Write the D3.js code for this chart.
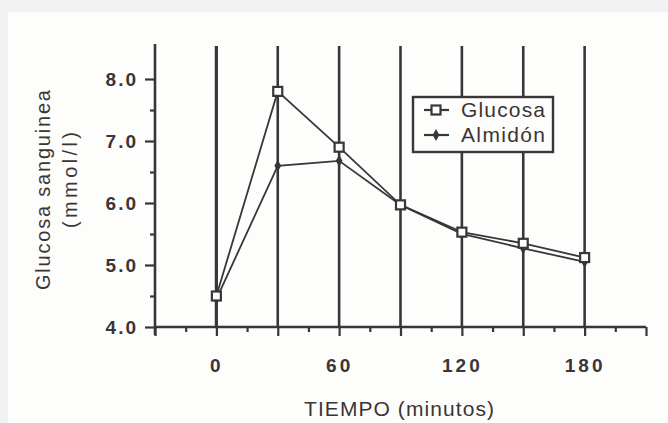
<!DOCTYPE html>
<html>
<head>
<meta charset="utf-8">
<script src="https://cdn.jsdelivr.net/npm/d3@7"></script>
<style>
  body { margin: 0; background: #f1f2f3; }
  svg { display: block; }
  text { font-family: "Liberation Sans", Arial, sans-serif; fill: #3a3536; }
</style>
</head>
<body>
<div id="chart"></div>
<script>
// data
const tiempo = [0, 30, 60, 90, 120, 150, 180];
const glucosa = [4.5, 7.8, 6.9, 5.97, 5.53, 5.35, 5.12];
const almidon = [4.45, 6.6, 6.68, 5.97, 5.5, 5.27, 5.05];
const yMajor = [4, 5, 6, 7, 8];
const yMinor = [4.5, 5.5, 6.5, 7.5];
const xMajor = [-30, 0, 30, 60, 90, 120, 150, 180, 210];
const xLabels = [0, 60, 120, 180];
const gridX = [0, 30, 60, 90, 120, 150, 180];
const series = [
  { name: "Glucosa", values: glucosa, marker: "square" },
  { name: "Almidón", values: almidon, marker: "diamond" }
];

const W = 668, H = 423;
const ink = "#3a3536";

const svg = d3.select("#chart").append("svg")
  .attr("width", W).attr("height", H);

// scanned page area
svg.append("rect")
  .attr("x", 8).attr("y", 12)
  .attr("width", W - 8).attr("height", H - 12)
  .attr("fill", "#fdfdfc");

const x = d3.scaleLinear().domain([-30, 210]).range([155, 646]);
const y = d3.scaleLinear().domain([4, 8]).range([327, 79]);
const yTop = 44;

// vertical grid lines
svg.append("g").selectAll("line")
  .data(gridX)
  .join("line")
    .attr("x1", d => x(d)).attr("x2", d => x(d))
    .attr("y1", 46).attr("y2", y(4))
    .attr("stroke", ink)
    .attr("stroke-width", d => d === 0 ? 3.2 : 2.6);

// y axis
const gy = svg.append("g").attr("transform", `translate(${x(-30)},0)`);
gy.append("line")
  .attr("y1", yTop).attr("y2", y(4) + 8)
  .attr("stroke", ink).attr("stroke-width", 2.6);
gy.call(d3.axisLeft(y).tickValues(yMinor).tickSize(5).tickFormat(""))
  .call(g => g.select(".domain").remove());
const gyMajor = svg.append("g").attr("transform", `translate(${x(-30)},0)`)
  .call(d3.axisLeft(y).tickValues(yMajor).tickSize(10).tickPadding(7).tickFormat(d3.format(".1f")))
  .call(g => g.select(".domain").remove());
svg.selectAll(".tick line").attr("stroke", ink).attr("stroke-width", 2.2);
gyMajor.selectAll("text")
  .attr("font-size", 19).attr("font-weight", "bold")
  .attr("letter-spacing", 2).attr("fill", ink)
  .attr("dy", "0.36em");

// x axis
const gx = svg.append("g").attr("transform", `translate(0,${y(4)})`);
gx.append("line")
  .attr("x1", x(-30)).attr("x2", x(210))
  .attr("stroke", ink).attr("stroke-width", 2.4);
gx.append("g")
  .call(d3.axisBottom(x).tickValues(d3.range(-15, 210, 30)).tickSize(5).tickFormat(""))
  .call(g => g.select(".domain").remove());
gx.append("g")
  .call(d3.axisBottom(x).tickValues(xMajor).tickSize(9)
    .tickFormat(d => xLabels.includes(d) ? d : ""))
  .call(g => g.select(".domain").remove())
  .call(g => g.selectAll("text")
    .attr("y", 32).attr("font-size", 19).attr("font-weight", "bold")
    .attr("letter-spacing", 3).attr("fill", ink));
gx.selectAll(".tick line").attr("stroke", ink).attr("stroke-width", 2.2);

// axis titles
svg.append("text")
  .attr("x", 304).attr("y", 416)
  .attr("font-size", 21)
  .attr("textLength", 190).attr("lengthAdjust", "spacing")
  .text("TIEMPO (minutos)");

svg.append("text")
  .attr("transform", "translate(50,190) rotate(-90)")
  .attr("text-anchor", "middle")
  .attr("font-size", 20)
  .attr("textLength", 200).attr("lengthAdjust", "spacing")
  .text("Glucosa sanguinea");

svg.append("text")
  .attr("transform", "translate(77,180) rotate(-90)")
  .attr("text-anchor", "middle")
  .attr("font-size", 20)
  .attr("textLength", 96).attr("lengthAdjust", "spacing")
  .text("(mmol/l)");

// lines
const line = d3.line().x((d, i) => x(tiempo[i])).y(d => y(d));

const drawMarker = (g, kind, cx, cy) => {
  if (kind === "square") {
    g.append("rect")
      .attr("x", cx - 4.5).attr("y", cy - 4.5)
      .attr("width", 9).attr("height", 9)
      .attr("fill", "#fdfdfc").attr("stroke", ink).attr("stroke-width", 2.2);
  } else {
    g.append("path")
      .attr("d", d3.symbol(d3.symbolDiamond, 40)())
      .attr("transform", `translate(${cx},${cy})`)
      .attr("fill", ink);
  }
};

series.slice().reverse().forEach(s => {
  svg.append("path")
    .datum(s.values)
    .attr("d", line)
    .attr("fill", "none")
    .attr("stroke", ink)
    .attr("stroke-width", 1.8);
});
series.slice().reverse().forEach(s => {
  const g = svg.append("g");
  s.values.forEach((v, i) => drawMarker(g, s.marker, x(tiempo[i]), y(v)));
});

// legend
const leg = svg.append("g");
leg.append("rect")
  .attr("x", 413).attr("y", 97)
  .attr("width", 140).attr("height", 55)
  .attr("fill", "#fdfdfc").attr("stroke", ink).attr("stroke-width", 2.4);
series.forEach((s, i) => {
  const ly = 110 + i * 25;
  leg.append("line")
    .attr("x1", 424).attr("x2", 449)
    .attr("y1", ly).attr("y2", ly)
    .attr("stroke", ink).attr("stroke-width", 2.2);
  drawMarker(leg, s.marker, 436, ly);
  leg.append("text")
    .attr("x", 461).attr("y", ly + 7)
    .attr("font-size", 21)
    .attr("textLength", 84).attr("lengthAdjust", "spacing")
    .text(s.name);
});
</script>
</body>
</html>
